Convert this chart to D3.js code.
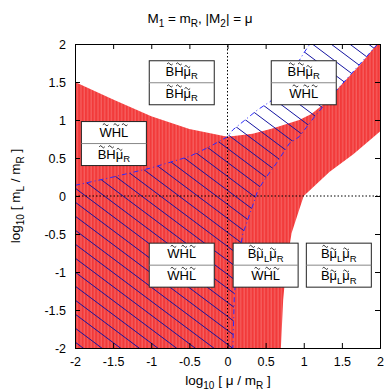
<!DOCTYPE html>
<html>
<head>
<meta charset="utf-8">
<script src="https://cdn.jsdelivr.net/npm/d3@7"></script>
<style>
  body { margin: 0; background: #fff; }
  text { font-family: "Liberation Sans", Arial, sans-serif; fill: #000; }
</style>
</head>
<body>
<div class="d3-container"></div>
<script>
const w = 387
const h = 392

// axis ticks
const ticks = [-2, -1.5, -1, -0.5, 0, 0.5, 1, 1.5, 2]

// red band (upper edge left->right, then lower edge right->left)
const redUpper = [[-2, 1.5], [-1.5, 1.27], [-1, 1.05], [-0.5, 0.88], [0, 0.78], [0.33, 0.82],
    [0.6, 0.89], [0.94, 1.0], [1.1, 1.08], [1.25, 1.2], [1.5, 1.47], [1.75, 1.74], [1.96, 2]]
const redLower = [[2, 0.85], [1.65, 0.55], [1.34, 0.32], [1.0, 0.0], [0.94, -0.18], [0.84, -0.49],
    [0.77, -0.93], [0.73, -1.37], [0.7, -2]]

// hatched region, blue dashed edges
const hatchLeft = [[-2, 0.14], [-1.5, 0.25], [-1, 0.37], [-0.5, 0.52], [-0.25, 0.64], [0, 0.78],
    [0.07, 0.87], [0.39, 1.13], [0.57, 1.25], [0.8, 1.55], [1.0, 1.88], [1.08, 2]]
const hatchRight = [[1.97, 2], [1.43, 1.39], [1.14, 1.04], [0.94, 0.78], [0.81, 0.69], [0.64, 0.43],
    [0.51, 0.25], [0.4, 0.08], [0.35, -0.07], [0.2, -0.5], [0.12, -1.0], [0.09, -1.3], [0.07, -2]]

// region labels: [x, y, top, bottom]   ("~" = tilde on next char, "_" = subscript)
const labels = [
    [-0.6, 1.49, '~B~H~μ_R', '~B~H~μ_R'],
    [-1.49, 0.69, '~W~H~L', '~B~H~μ_R'],
    [1.0, 1.49, '~B~H~μ_R', '~W~H~L'],
    [-0.6, -0.91, '~W~H~L', '~W~H~L'],
    [0.5, -0.91, '~B~μ_L~μ_R', '~W~H~L'],
    [1.46, -0.91, '~B~μ_L~μ_R', '~B~μ_L~μ_R']
]
const titleText = 'M_1 = m_R, |M_2| = μ'
const xLabel = 'log_{10} [ μ / m_R ]'
const yLabel = 'log_{10} [ m_L / m_R ]'

const x = d3.scaleLinear().domain([-2, 2]).range([75, 380])
const y = d3.scaleLinear().domain([-2, 2]).range([348, 44])

const svg = d3.select('.d3-container')
    .append('svg')
    .attr('width', w)
    .attr('height', h)

const line = d3.line().x(d => x(d[0])).y(d => y(d[1]))
const hatchPoly = [[-2, -2], ...hatchLeft, ...hatchRight]

const defs = svg.append('defs')
defs.append('clipPath').attr('id', 'plot')
    .append('rect')
    .attr('x', x(-2)).attr('y', y(2))
    .attr('width', x(2) - x(-2)).attr('height', y(-2) - y(2))
defs.append('clipPath').attr('id', 'hatchclip')
    .append('path')
    .attr('d', line(hatchPoly) + 'Z')

const stripes = defs.append('pattern')
    .attr('id', 'redfill')
    .attr('patternUnits', 'userSpaceOnUse')
    .attr('width', 3.4).attr('height', 10)
stripes.append('rect').attr('width', 3.4).attr('height', 10).attr('fill', '#f23a3a')
stripes.append('rect').attr('x', 2.2).attr('width', 1).attr('height', 10).attr('fill', '#f76a6a')

const plot = svg.append('g').attr('clip-path', 'url(#plot)')

plot.append('path')
    .datum([[-2, -2], ...redUpper, [2, 2], ...redLower])
    .attr('d', d => line(d) + 'Z')
    .attr('fill', 'url(#redfill)')

// hatch lines, clipped to the hatched region
const slope = 0.75
const gap = 14
const x0 = x(-2)
const x1 = x(2)
const hatchOffsets = d3.range(-30, 30).map(k => y(2) + 4 + k * gap)
plot.append('g')
    .attr('clip-path', 'url(#hatchclip)')
    .selectAll('line')
    .data(hatchOffsets)
    .enter()
    .append('line')
    .attr('x1', x0).attr('y1', d => d)
    .attr('x2', x1).attr('y2', d => d + slope * (x1 - x0))
    .attr('stroke', '#1414a0')
    .attr('stroke-width', 1)

plot.selectAll('.edge')
    .data([hatchLeft, hatchRight])
    .enter()
    .append('path')
    .attr('class', 'edge')
    .attr('d', line)
    .attr('fill', 'none')
    .attr('stroke', '#2b2bff')
    .attr('stroke-width', 1)
    .attr('stroke-dasharray', '5,3,1,3')

// dotted zero lines
plot.append('line')
    .attr('x1', x(0)).attr('x2', x(0)).attr('y1', y(-2)).attr('y2', y(2))
    .attr('stroke', '#000').attr('stroke-dasharray', '1.5,2')
plot.append('line')
    .attr('x1', x(-2)).attr('x2', x(2)).attr('y1', y(0)).attr('y2', y(0))
    .attr('stroke', '#000').attr('stroke-dasharray', '1.5,2')

// split "~X" (tilde) and "_X" / "_{..}" (subscript) into runs
const parse = (str) => {
    const chars = []
    let i = 0
    while (i < str.length) {
        let tilde = false, sub = false
        if (str[i] === '~') { tilde = true; i++ }
        if (str[i] === '_') {
            sub = true; i++
            if (str[i] === '{') {
                const end = str.indexOf('}', i)
                for (const c of str.slice(i + 1, end)) chars.push({ c, sub: true, tilde: false })
                i = end + 1
                continue
            }
        }
        chars.push({ c: str[i], sub, tilde })
        i++
    }
    return chars
}

const writeRich = (parent, text, str, size, subSize) => {
    const chars = parse(str)
    const runs = []
    chars.forEach(ch => {
        const last = runs[runs.length - 1]
        if (last && last.sub === ch.sub) last.t += ch.c
        else runs.push({ sub: ch.sub, t: ch.c })
    })
    let shifted = 0
    runs.forEach(r => {
        const dy = r.sub ? 3.5 - shifted : -shifted
        shifted = r.sub ? 3.5 : 0
        text.append('tspan')
            .attr('font-size', r.sub ? subSize : size)
            .attr('dy', dy)
            .text(r.t)
    })
    // tildes drawn above marked letters
    const node = text.node()
    const base = +text.attr('y')
    chars.forEach((ch, k) => {
        if (!ch.tilde) return
        const ext = node.getExtentOfChar(k)
        const cx = ext.x + ext.width / 2
        const lower = ch.c === 'μ'
        const ty = base - (lower ? 9.2 : 11.8)
        parent.append('path')
            .attr('d', `M${cx - 2.8},${ty}Q${cx - 1.4},${ty - 2.2} ${cx},${ty}T${cx + 2.8},${ty}`)
            .attr('fill', 'none')
            .attr('stroke', '#000')
            .attr('stroke-width', 0.8)
    })
}

const bw = 65
const bh = 44
const boxes = svg.selectAll('.box')
    .data(labels)
    .enter()
    .append('g')
    .attr('class', 'box')
    .attr('transform', d => `translate(${x(d[0]) - bw / 2},${y(d[1]) - bh / 2})`)

boxes.append('rect')
    .attr('width', bw).attr('height', bh)
    .attr('fill', '#fff').attr('stroke', '#222').attr('stroke-width', 1)
boxes.append('line')
    .attr('x1', 0).attr('x2', bw).attr('y1', bh / 2).attr('y2', bh / 2)
    .attr('stroke', '#888')
boxes.each(function (d) {
    const g = d3.select(this)
    const t1 = g.append('text').attr('x', bw / 2).attr('y', 15).attr('text-anchor', 'middle')
    writeRich(g, t1, d[2], 13, 9.5)
    const t2 = g.append('text').attr('x', bw / 2).attr('y', bh / 2 + 15).attr('text-anchor', 'middle')
    writeRich(g, t2, d[3], 13, 9.5)
})

// frame and ticks (inward, mirrored)
svg.append('g')
    .attr('transform', `translate(0,${y(-2)})`)
    .call(d3.axisBottom(x).tickValues(ticks).tickSize(-5).tickPadding(9).tickFormat(d => String(d)))
svg.append('g')
    .attr('transform', `translate(0,${y(2)})`)
    .call(d3.axisTop(x).tickValues(ticks).tickSize(-5).tickFormat(''))
svg.append('g')
    .attr('transform', `translate(${x(-2)},0)`)
    .call(d3.axisLeft(y).tickValues(ticks).tickSize(-5).tickPadding(9).tickFormat(d => String(d)))
svg.append('g')
    .attr('transform', `translate(${x(2)},0)`)
    .call(d3.axisRight(y).tickValues(ticks).tickSize(-5).tickFormat(''))

svg.selectAll('.domain').attr('stroke', '#000')
svg.selectAll('.tick text')
    .attr('font-size', 12.5)
    .attr('font-family', '"Liberation Sans", Arial, sans-serif')

// title and axis labels
const title = svg.append('text').attr('x', 200).attr('y', 23).attr('text-anchor', 'middle')
writeRich(svg, title, titleText, 13.5, 10)

const xl = svg.append('text').attr('x', 228).attr('y', 385).attr('text-anchor', 'middle')
writeRich(svg, xl, xLabel, 13.5, 10)

const yg = svg.append('g').attr('transform', `translate(20,${y(0)}) rotate(-90)`)
const yl = yg.append('text').attr('x', 0).attr('y', 0).attr('text-anchor', 'middle')
writeRich(yg, yl, yLabel, 13.5, 10)
</script>
</body>
</html>
